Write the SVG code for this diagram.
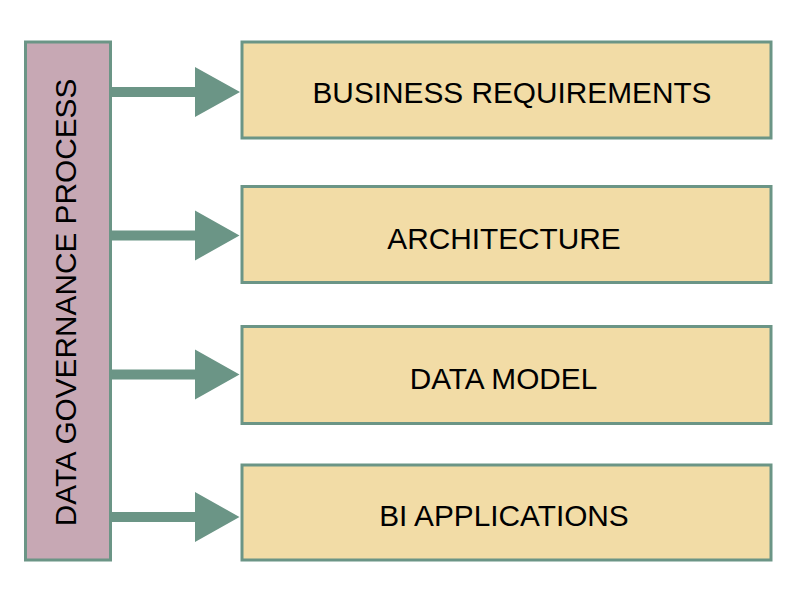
<svg xmlns="http://www.w3.org/2000/svg" width="800" height="600" viewBox="0 0 800 600">
<defs>
<style>
.box{fill:#f2dca6;stroke:#6b9586;stroke-width:3}
.bar{fill:#c7a8b4;stroke:#6b9586;stroke-width:3}
.lbl{font-family:"Liberation Sans",Arial,sans-serif;font-size:29.8px;fill:#000;text-anchor:middle}
.arr{fill:#6b9586}
</style>
</defs>
<rect width="800" height="600" fill="#fff"/>
<g id="connectors">
<polygon class="arr" points="111,87 195,87 195,67 240,92 195,117 195,97 111,97"/>
<polygon class="arr" points="111,230.5 195,230.5 195,210.5 239.5,235.5 195,260.5 195,240.5 111,240.5"/>
<polygon class="arr" points="111,369.5 195,369.5 195,349.5 239.5,374.5 195,399.5 195,379.5 111,379.5"/>
<polygon class="arr" points="111,512 195,512 195,492 239.5,517 195,542 195,522 111,522"/>
</g>
<g id="governance">
<rect class="bar" x="25.5" y="42" width="85" height="518"/>
<text class="lbl" transform="translate(75.5,302.5) rotate(-90)" x="0" y="0">DATA GOVERNANCE PROCESS</text>
</g>
<g id="business">
<rect class="box" x="242" y="42" width="529" height="96"/>
<text class="lbl" x="512" y="103">BUSINESS REQUIREMENTS</text>
</g>
<g id="architecture">
<rect class="box" x="242" y="186.5" width="529" height="96"/>
<text class="lbl" x="504" y="249.3">ARCHITECTURE</text>
</g>
<g id="datamodel">
<rect class="box" x="242" y="326.5" width="529" height="97"/>
<text class="lbl" x="503.5" y="389.3">DATA MODEL</text>
</g>
<g id="bi">
<rect class="box" x="242" y="465" width="529" height="95"/>
<text class="lbl" x="504" y="526">BI APPLICATIONS</text>
</g>
</svg>
